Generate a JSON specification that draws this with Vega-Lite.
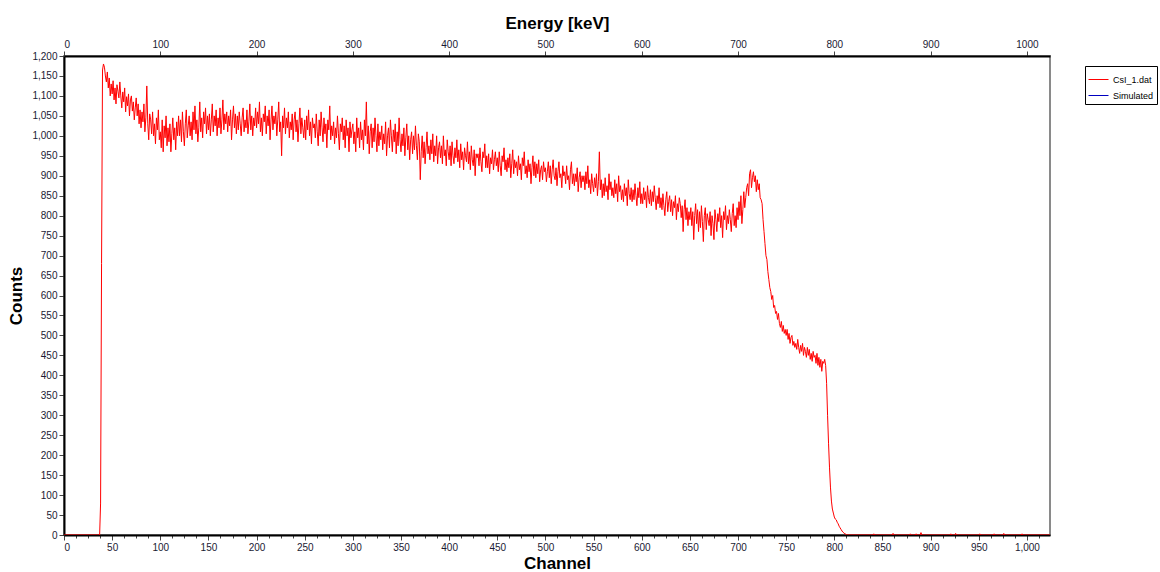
{
  "$schema": "https://vega.github.io/schema/vega-lite/v6.json",
  "autosize": "none",
  "width": 986,
  "height": 479,
  "padding": {"left": 64, "top": 56, "right": 110, "bottom": 37},
  "background": "white",
  "config": {
    "view": {"stroke": "#8a8a8a", "strokeWidth": 2},
    "axis": {"labelFont": "Liberation Sans", "labelFontSize": 10, "labelColor": "#1a1a33", "titleFont": "Liberation Sans", "titleFontSize": 17, "titleFontWeight": "bold", "titleColor": "black", "domainColor": "black", "domainWidth": 2, "tickColor": "#444", "grid": false}
  },
  "layer": [
    {
      "data": {
        "values": "c,n\n0,0\n36,0\n37,0\n38,80\n39,680\n40,1165\n41,1180\n42,1172\n43,1150\n44,1135\n45,1160\n46,1120\n47,1145\n48,1100\n49,1130\n50,1105\n51,1138\n52,1090\n53,1120\n54,1080\n55,1128\n56,1112\n57,1095\n58,1135\n59,1100\n60,1070\n61,1110\n62,1085\n63,1120\n64,1060\n65,1098\n66,1075\n67,1105\n68,1050\n69,1090\n70,1100\n71,1062\n72,1085\n73,1040\n74,1070\n75,1095\n76,1050\n77,1080\n78,1030\n79,1065\n80,1020\n81,1060\n82,1035\n83,1080\n84,1010\n85,1045\n86,1125\n87,1030\n88,990\n89,1055\n90,1040\n91,1005\n92,1060\n93,1000\n94,1030\n95,980\n96,1045\n97,1015\n98,1065\n99,990\n100,1010\n101,970\n102,1040\n103,960\n104,1025\n105,995\n106,1050\n107,975\n108,1020\n109,985\n110,1030\n111,960\n112,1005\n113,1045\n114,990\n115,1020\n116,965\n117,1035\n118,1000\n119,1050\n120,1000\n121,1040\n122,985\n123,1060\n124,1010\n125,975\n126,1030\n127,1065\n128,995\n129,1025\n130,1050\n131,1000\n132,1035\n133,990\n134,1060\n135,1015\n136,1075\n137,1005\n138,1040\n139,985\n140,1020\n141,1085\n142,1010\n143,1045\n144,995\n145,1060\n146,1030\n147,1070\n148,1005\n149,1050\n150,1015\n151,1055\n152,1000\n153,1040\n154,1080\n155,1010\n156,1050\n157,1025\n158,1065\n159,1000\n160,1045\n161,1020\n162,1070\n163,1005\n164,1040\n165,1090\n166,1015\n167,1055\n168,1030\n169,1060\n170,1010\n171,1050\n172,1025\n173,1065\n174,990\n175,1040\n176,1075\n177,1020\n178,1055\n179,1005\n180,1050\n181,1015\n182,1060\n183,1030\n184,1000\n185,1045\n186,1070\n187,1010\n188,1040\n189,1020\n190,1065\n191,1005\n192,1035\n193,1080\n194,1015\n195,1050\n196,1000\n197,1045\n198,1025\n199,1070\n200,1020\n201,1060\n202,1030\n203,1085\n204,1010\n205,1045\n206,1000\n207,1055\n208,1035\n209,1075\n210,1005\n211,1050\n212,1025\n213,1065\n214,990\n215,1040\n216,1075\n217,1015\n218,1050\n219,1030\n220,1060\n221,1000\n222,1040\n223,1085\n224,1010\n225,1035\n226,950\n227,1050\n228,1020\n229,1070\n230,1005\n231,1045\n232,1020\n233,1060\n234,995\n235,1035\n236,1015\n237,1055\n238,990\n239,1040\n240,1060\n241,1010\n242,1040\n243,985\n244,1030\n245,1070\n246,1005\n247,1045\n248,1020\n249,995\n250,1040\n251,990\n252,1050\n253,1015\n254,1065\n255,1000\n256,1035\n257,980\n258,1045\n259,1020\n260,1030\n261,995\n262,1055\n263,1010\n264,975\n265,1040\n266,1000\n267,1060\n268,1020\n269,985\n270,1045\n271,1005\n272,1030\n273,970\n274,1040\n275,1015\n276,1075\n277,990\n278,1025\n279,1000\n280,1035\n281,980\n282,1020\n283,995\n284,1050\n285,1005\n286,965\n287,1030\n288,1010\n289,1045\n290,990\n291,1025\n292,970\n293,1040\n294,1000\n295,1020\n296,960\n297,1035\n298,995\n299,1015\n300,1030\n301,980\n302,1010\n303,960\n304,1045\n305,995\n306,1020\n307,970\n308,1035\n309,990\n310,1015\n311,965\n312,1040\n313,1000\n314,1085\n315,980\n316,1025\n317,955\n318,1010\n319,1030\n320,970\n321,1020\n322,985\n323,1045\n324,1000\n325,960\n326,1030\n327,975\n328,1010\n329,990\n330,1025\n331,965\n332,1005\n333,980\n334,1035\n335,950\n336,1000\n337,1020\n338,970\n339,1040\n340,1000\n341,960\n342,1015\n343,985\n344,1030\n345,955\n346,1010\n347,975\n348,1045\n349,990\n350,960\n351,1005\n352,975\n353,1020\n354,950\n355,995\n356,1030\n357,965\n358,1000\n359,940\n360,990\n361,1010\n362,955\n363,1000\n364,965\n365,1025\n366,975\n367,940\n368,1005\n369,985\n370,890\n371,960\n372,1000\n373,945\n374,985\n375,930\n376,970\n377,1010\n378,955\n379,975\n380,940\n381,990\n382,955\n383,1005\n384,935\n385,975\n386,950\n387,1000\n388,930\n389,970\n390,985\n391,945\n392,975\n393,930\n394,1000\n395,950\n396,965\n397,925\n398,990\n399,960\n400,940\n401,975\n402,925\n403,985\n404,950\n405,930\n406,970\n407,945\n408,990\n409,935\n410,965\n411,920\n412,980\n413,940\n414,960\n415,915\n416,970\n417,950\n418,935\n419,985\n420,930\n421,960\n422,915\n423,975\n424,940\n425,925\n426,965\n427,900\n428,955\n429,945\n430,955\n431,925\n432,970\n433,935\n434,910\n435,960\n436,945\n437,980\n438,920\n439,950\n440,920\n441,955\n442,905\n443,945\n444,930\n445,965\n446,915\n447,940\n448,960\n449,925\n450,945\n451,910\n452,960\n453,925\n454,900\n455,950\n456,935\n457,970\n458,915\n459,940\n460,910\n461,945\n462,920\n463,955\n464,895\n465,930\n466,965\n467,905\n468,940\n469,920\n470,935\n471,900\n472,950\n473,915\n474,930\n475,890\n476,945\n477,925\n478,960\n479,905\n480,925\n481,895\n482,940\n483,910\n484,930\n485,880\n486,920\n487,950\n488,900\n489,935\n490,895\n491,930\n492,905\n493,940\n494,885\n495,915\n496,925\n497,890\n498,935\n499,910\n500,920\n501,885\n502,910\n503,935\n504,895\n505,925\n506,880\n507,915\n508,940\n509,900\n510,890\n511,920\n512,875\n513,910\n514,935\n515,895\n516,905\n517,870\n518,925\n519,900\n520,910\n521,880\n522,925\n523,890\n524,900\n525,865\n526,915\n527,935\n528,880\n529,905\n530,875\n531,905\n532,885\n533,920\n534,860\n535,895\n536,910\n537,870\n538,900\n539,885\n540,900\n541,865\n542,910\n543,880\n544,925\n545,870\n546,890\n547,855\n548,905\n549,880\n550,860\n551,895\n552,870\n553,905\n554,850\n555,885\n556,960\n557,865\n558,890\n559,845\n560,880\n561,850\n562,895\n563,860\n564,875\n565,840\n566,905\n567,865\n568,885\n569,850\n570,870\n571,845\n572,890\n573,855\n574,880\n575,835\n576,900\n577,860\n578,875\n579,840\n580,865\n581,835\n582,880\n583,850\n584,870\n585,825\n586,890\n587,855\n588,840\n589,870\n590,835\n591,865\n592,840\n593,880\n594,850\n595,825\n596,870\n597,845\n598,885\n599,830\n600,855\n601,830\n602,870\n603,840\n604,860\n605,820\n606,875\n607,845\n608,830\n609,865\n610,825\n611,860\n612,835\n613,875\n614,845\n615,815\n616,850\n617,830\n618,870\n619,820\n620,845\n621,815\n622,855\n623,825\n624,800\n625,840\n626,860\n627,810\n628,835\n629,850\n630,810\n631,840\n632,800\n633,835\n634,820\n635,850\n636,790\n637,830\n638,810\n639,845\n640,830\n641,795\n642,825\n643,760\n644,815\n645,840\n646,790\n647,820\n648,775\n649,810\n650,790\n651,820\n652,775\n653,810\n654,740\n655,800\n656,830\n657,780\n658,815\n659,760\n660,810\n661,770\n662,825\n663,785\n664,735\n665,800\n666,820\n667,765\n668,805\n669,790\n670,775\n671,810\n672,750\n673,800\n674,780\n675,740\n676,815\n677,790\n678,760\n679,805\n680,785\n681,820\n682,770\n683,800\n684,745\n685,810\n686,790\n687,825\n688,765\n689,800\n690,780\n691,815\n692,790\n693,760\n694,805\n695,830\n696,775\n697,800\n698,770\n699,820\n700,790\n701,835\n702,800\n703,850\n704,780\n705,815\n706,860\n707,820\n708,845\n709,870\n710,880\n711,850\n712,905\n713,915\n714,870\n715,895\n716,910\n717,885\n718,900\n719,860\n720,890\n721,865\n722,880\n723,845\n724,840\n725,830\n726,790\n727,760\n728,730\n729,700\n730,690\n731,660\n732,640\n733,620\n734,610\n735,590\n736,600\n737,570\n738,575\n739,555\n740,560\n741,540\n742,555\n743,530\n744,520\n745,535\n746,510\n747,525\n748,505\n749,515\n750,500\n751,515\n752,490\n753,505\n754,480\n755,495\n756,500\n757,475\n758,485\n759,470\n760,480\n761,465\n762,490\n763,470\n764,455\n765,475\n766,460\n767,480\n768,450\n769,470\n770,460\n771,445\n772,470\n773,450\n774,465\n775,440\n776,455\n777,435\n778,460\n779,445\n780,450\n781,430\n782,455\n783,425\n784,445\n785,420\n786,440\n787,410\n788,435\n789,430\n790,440\n791,425\n792,380\n793,300\n794,230\n795,170\n796,120\n797,85\n798,65\n799,55\n800,45\n801,40\n802,38\n803,32\n804,28\n805,22\n806,18\n807,14\n808,10\n809,7\n810,5\n811,3\n812,2\n813,0\n840,0\n841,3\n842,0\n860,0\n861,4\n862,0\n878,0\n879,3\n880,0\n884,0\n885,3\n886,0\n889,0\n890,6\n891,0\n920,0\n921,3\n922,0\n925,0\n926,4\n927,0\n950,0\n951,3\n952,0\n965,0\n966,3\n967,0\n975,0\n976,4\n977,0\n994,0\n995,3\n996,0\n1024,0",
        "format": {"type": "csv", "parse": {"c": "number", "n": "number"}}
      },
      "mark": {"type": "line", "strokeWidth": 1, "interpolate": "linear", "clip": true},
      "encoding": {
        "x": {
          "field": "c", "type": "quantitative",
          "scale": {"domain": [0, 1024], "nice": false, "zero": false},
          "axis": {
            "orient": "bottom", "title": "Channel", "titlePadding": 3,
            "values": [0,12.5,25,37.5,50,62.5,75,87.5,100,112.5,125,137.5,150,162.5,175,187.5,200,212.5,225,237.5,250,262.5,275,287.5,300,312.5,325,337.5,350,362.5,375,387.5,400,412.5,425,437.5,450,462.5,475,487.5,500,512.5,525,537.5,550,562.5,575,587.5,600,612.5,625,637.5,650,662.5,675,687.5,700,712.5,725,737.5,750,762.5,775,787.5,800,812.5,825,837.5,850,862.5,875,887.5,900,912.5,925,937.5,950,962.5,975,987.5,1000,1012.5],
            "labelExpr": "datum.value % 50 === 0 ? format(datum.value, ',') : ''",
            "labelOverlap": false,
            "tickSize": {"condition": {"test": "datum.value % 50 === 0", "value": 5}, "value": 3},
            "labelPadding": 2
          }
        },
        "y": {
          "field": "n", "type": "quantitative",
          "scale": {"domain": [0, 1200], "nice": false},
          "axis": {
            "title": "Counts", "titlePadding": 6,
            "values": [0,50,100,150,200,250,300,350,400,450,500,550,600,650,700,750,800,850,900,950,1000,1050,1100,1150,1200],
            "labelExpr": "format(datum.value, ',')", "labelOverlap": false, "tickSize": 5, "labelPadding": 2
          }
        },
        "color": {
          "datum": "CsI_1.dat",
          "scale": {"domain": ["CsI_1.dat", "Simulated"], "range": ["#ff0000", "#0000c0"]},
          "legend": {
            "title": null, "orient": "none", "legendX": 1021, "legendY": 10,
            "symbolType": "stroke", "symbolSize": 400, "symbolStrokeWidth": 1,
            "labelFont": "Liberation Sans", "labelFontSize": 9, "labelColor": "black",
            "strokeColor": "black", "fillColor": "white", "padding": 3, "rowPadding": 0,
            "labelOffset": 4
          }
        }
      }
    },
    {
      "data": {"values": [{"e": 0}, {"e": 1024}]},
      "mark": {"type": "point", "opacity": 0},
      "encoding": {
        "x": {
          "field": "e", "type": "quantitative",
          "scale": {"domain": [0, 1024], "nice": false, "zero": false},
          "axis": {
            "orient": "top", "title": "Energy [keV]", "titlePadding": 7,
            "values": [0,100,200,300,400,500,600,700,800,900,1000],
            "format": "d", "tickSize": 5, "labelPadding": 2
          }
        }
      }
    }
  ],
  "resolve": {"scale": {"x": "independent"}, "axis": {"x": "independent"}}
}
